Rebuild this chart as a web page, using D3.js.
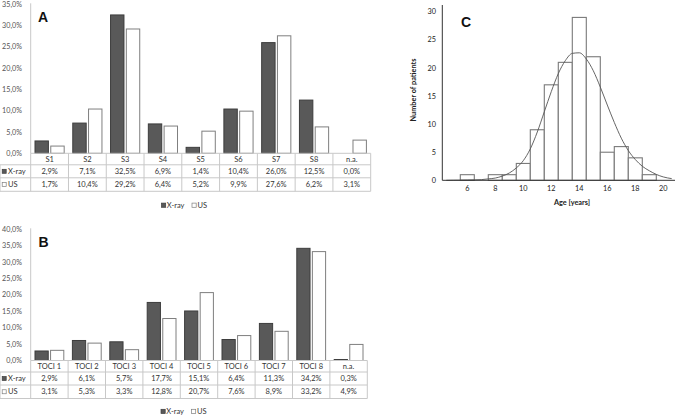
<!DOCTYPE html>
<html><head><meta charset="utf-8">
<script src="https://cdn.jsdelivr.net/npm/d3@7"></script>
<style>
body{margin:0;background:#fff}
svg{display:block}
text{font-family:Lato,"Open Sans",sans-serif;fill:#333}
</style>
</head><body>
<svg id="chart" width="676" height="416"></svg>
<script>
// ---- Panel A data ----
const segCategories = ["S1","S2","S3","S4","S5","S6","S7","S8","n.a."];
const segXray = [2.9,7.1,32.5,6.9,1.4,10.4,26.0,12.5,0.0];
const segUS   = [1.7,10.4,29.2,6.4,5.2,9.9,27.6,6.2,3.1];
const segTicks = [0,5,10,15,20,25,30,35];
// ---- Panel B data ----
const tociCategories = ["TOCI 1","TOCI 2","TOCI 3","TOCI 4","TOCI 5","TOCI 6","TOCI 7","TOCI 8","n.a."];
const tociXray = [2.9,6.1,5.7,17.7,15.1,6.4,11.3,34.2,0.3];
const tociUS   = [3.1,5.3,3.3,12.8,20.7,7.6,8.9,33.2,4.9];
const tociTicks = [0,5,10,15,20,25,30,35,40];
const seriesNames = ["X-ray","US"];
// ---- Panel C data ----
const ages = [6,7,8,9,10,11,12,13,14,15,16,17,18,19];
const patients = [1,0,1,1,3,9,17,21,29,22,5,6,4,1];
const curveAge = [4.5,5,5.5,6,6.5,7,7.5,8,8.5,9,9.5,10,10.5,11,11.5,12,12.5,13,13.5,14,14.5,15,15.5,16,16.5,17,17.5,18,18.5,19,19.5,20,20.6];
const curveFit = [0,0.02,0.03,0.05,0.08,0.12,0.25,0.4,0.75,1.3,2.2,3.5,5.6,8.6,12.2,15.8,19.0,21.3,22.6,22.7,21.6,19.5,16.6,13.4,10.3,7.5,5.3,3.7,2.5,1.7,1.05,0.6,0.3];
const ageTicks = [6,8,10,12,14,16,18,20];
const patientTicks = [0,5,10,15,20,25,30];

const svg = d3.select("#chart");
const fmtPct = v => d3.format(".1f")(v).replace(".", ",") + "%";
const COL_X = "#595959", COL_X_STROKE = "#3d3d3d", COL_US_STROKE = "#7f7f7f", GRID = "#c8c8c8";
const FS = "7.5px";

function barTable(cfg){
  const g = svg.append("g");
  const x = d3.scaleBand().domain(cfg.cats).range([cfg.left, cfg.right]);
  const xs = d3.scaleBand().domain(seriesNames).range([4.3, x.bandwidth()-4.3]).paddingInner(0.15);
  const y = d3.scaleLinear().domain([0, cfg.max]).range([cfg.zero, cfg.top]);
  const vals = [cfg.xray, cfg.us];

  g.selectAll(".yt").data(cfg.ticks).join("text")
    .attr("x", 22).attr("y", d => y(d)).attr("dy", "0.35em")
    .attr("text-anchor", "end").style("font-size", "7.2px").style("fill", "#555")
    .text(d => fmtPct(d));
  g.append("line").attr("x1", cfg.left).attr("x2", cfg.left)
    .attr("y1", y(cfg.max) - 1).attr("y2", cfg.zero)
    .attr("stroke", GRID).attr("stroke-width", 1);

  seriesNames.forEach((s, si) => {
    g.selectAll(".b" + si).data(cfg.cats.map((c, i) => ({c, v: vals[si][i]}))).join("rect")
      .attr("x", d => x(d.c) + xs(s))
      .attr("y", d => y(d.v))
      .attr("width", xs.bandwidth())
      .attr("height", d => cfg.zero - y(d.v))
      .attr("fill", si === 0 ? COL_X : "#fff")
      .attr("stroke", si === 0 ? COL_X_STROKE : COL_US_STROKE)
      .attr("stroke-width", 1)
      .style("display", d => d.v > 0 ? null : "none");
  });

  const rows = [cfg.zero, cfg.zero + 11.5, cfg.zero + 24.5, cfg.zero + 38];
  g.append("line").attr("x1", cfg.left).attr("x2", cfg.right).attr("y1", rows[0]).attr("y2", rows[0])
    .attr("stroke", GRID);
  [1,2,3].forEach(r => g.append("line").attr("x1", 0).attr("x2", cfg.right)
    .attr("y1", rows[r]).attr("y2", rows[r]).attr("stroke", GRID));
  g.append("line").attr("x1", 0).attr("x2", 0).attr("y1", rows[1]).attr("y2", rows[3]).attr("stroke", GRID);
  cfg.cats.forEach(c => {
    g.append("line").attr("x1", x(c) + x.bandwidth()).attr("x2", x(c) + x.bandwidth())
      .attr("y1", rows[0]).attr("y2", rows[3]).attr("stroke", GRID);
  });
  g.append("line").attr("x1", cfg.left).attr("x2", cfg.left).attr("y1", rows[0]).attr("y2", rows[3]).attr("stroke", GRID);

  g.selectAll(".hd").data(cfg.cats).join("text")
    .attr("x", d => x(d) + x.bandwidth()/2).attr("y", (rows[0]+rows[1])/2).attr("dy", "0.36em")
    .attr("text-anchor", "middle").style("font-size", FS).text(d => d);
  seriesNames.forEach((s, si) => {
    const yc = (rows[si+1] + rows[si+2]) / 2;
    g.selectAll(".v" + si).data(vals[si]).join("text")
      .attr("x", (d, i) => x(cfg.cats[i]) + x.bandwidth()/2).attr("y", yc).attr("dy", "0.36em")
      .attr("text-anchor", "middle").style("font-size", FS).text(d => fmtPct(d));
    g.append("rect").attr("x", 2.2).attr("y", yc - 2).attr("width", 4).attr("height", 4)
      .attr("fill", si === 0 ? COL_X : "#fff").attr("stroke", si === 0 ? COL_X_STROKE : COL_US_STROKE).attr("stroke-width", 0.7);
    g.append("text").attr("x", 8).attr("y", yc).attr("dy", "0.36em").style("font-size", FS).text(s);
  });

  const ly = cfg.zero + cfg.legendOff;
  const lg = g.append("g").attr("transform", `translate(${cfg.legendX},${ly})`);
  lg.append("rect").attr("x", 0).attr("y", -2.2).attr("width", 4.2).attr("height", 4.2)
    .attr("fill", COL_X).attr("stroke", COL_X_STROKE).attr("stroke-width", 0.7);
  lg.append("text").attr("x", 5.3).attr("dy", "0.36em").style("font-size", FS).text(seriesNames[0]);
  lg.append("rect").attr("x", 30.5).attr("y", -2.2).attr("width", 4.2).attr("height", 4.2)
    .attr("fill", "#fff").attr("stroke", COL_US_STROKE).attr("stroke-width", 0.7);
  lg.append("text").attr("x", 36).attr("dy", "0.36em").style("font-size", FS).text(seriesNames[1]);

  svg.append("text").attr("x", cfg.letterX).attr("y", cfg.letterY)
    .style("font-family", "'Liberation Sans',Arial,sans-serif").style("font-weight", "bold")
    .style("font-size", "14px").style("fill", "#111").text(cfg.letter);
}

barTable({cats: segCategories, xray: segXray, us: segUS, ticks: segTicks, max: 35,
  left: 30.7, right: 370.7, zero: 153.3, top: 4.3, legendOff: 52, legendX: 161.5,
  letter: "A", letterX: 38, letterY: 21.8});
barTable({cats: tociCategories, xray: tociXray, us: tociUS, ticks: tociTicks, max: 40,
  left: 30.7, right: 367.3, zero: 360.5, top: 229.3, legendOff: 51, legendX: 161,
  letter: "B", letterX: 38.5, letterY: 246.8});

// ---- Panel C ----
(function(){
  const g = svg.append("g");
  const x = d3.scaleLinear().domain([6, 20]).range([467.3, 663.3]);
  const y = d3.scaleLinear().domain([0, 30]).range([180.3, 11.8]);
  const axisX0 = x.invert(442.3), axisX1 = x.invert(675);

  g.selectAll(".hb").data(ages.map((a, i) => ({a, n: patients[i]})).filter(d => d.n > 0)).join("rect")
    .attr("x", d => x(d.a - 0.5)).attr("y", d => y(d.n))
    .attr("width", d => x(d.a + 0.5) - x(d.a - 0.5)).attr("height", d => y(0) - y(d.n))
    .attr("fill", "#fff").attr("stroke", "#7a7a7a").attr("stroke-width", 1.1);

  const line = d3.line().x(d => x(d[0])).y(d => y(d[1])).curve(d3.curveMonotoneX);
  g.append("path").datum(curveAge.map((a, i) => [a, curveFit[i]])).attr("d", line)
    .attr("fill", "none").attr("stroke", "#555").attr("stroke-width", 0.9);

  g.append("line").attr("x1", x(axisX0)).attr("x2", x(axisX1)).attr("y1", y(0)).attr("y2", y(0))
    .attr("stroke", "#333").attr("stroke-width", 1);
  g.append("line").attr("x1", x(axisX0)).attr("x2", x(axisX0)).attr("y1", y(0)).attr("y2", 5)
    .attr("stroke", "#333").attr("stroke-width", 1);

  g.selectAll(".xt").data(ageTicks).join("text")
    .attr("x", d => x(d)).attr("y", 188.5).attr("dy", "0.35em").attr("text-anchor", "middle")
    .style("font-size", "7.3px").style("fill", "#222").text(d => d);
  g.selectAll(".yt").data(patientTicks).join("text")
    .attr("x", 436).attr("y", d => y(d)).attr("dy", "0.35em").attr("text-anchor", "end")
    .style("font-size", "7.3px").style("fill", "#222").text(d => d);

  g.append("text").attr("x", 572).attr("y", 202).attr("dy", "0.35em").attr("text-anchor", "middle")
    .style("font-size", "7.3px").style("font-weight", "bold").style("fill", "#222").text("Age [years]");
  g.append("text").attr("transform", "translate(413,90) rotate(-90)").attr("dy", "0.35em")
    .attr("text-anchor", "middle").style("font-size", "7.3px").style("font-weight", "bold").style("fill", "#222")
    .text("Number of patients");
  svg.append("text").attr("x", 461).attr("y", 27.3)
    .style("font-family", "'Liberation Sans',Arial,sans-serif").style("font-weight", "bold")
    .style("font-size", "14px").style("fill", "#111").text("C");
})();
</script>
</body></html>
